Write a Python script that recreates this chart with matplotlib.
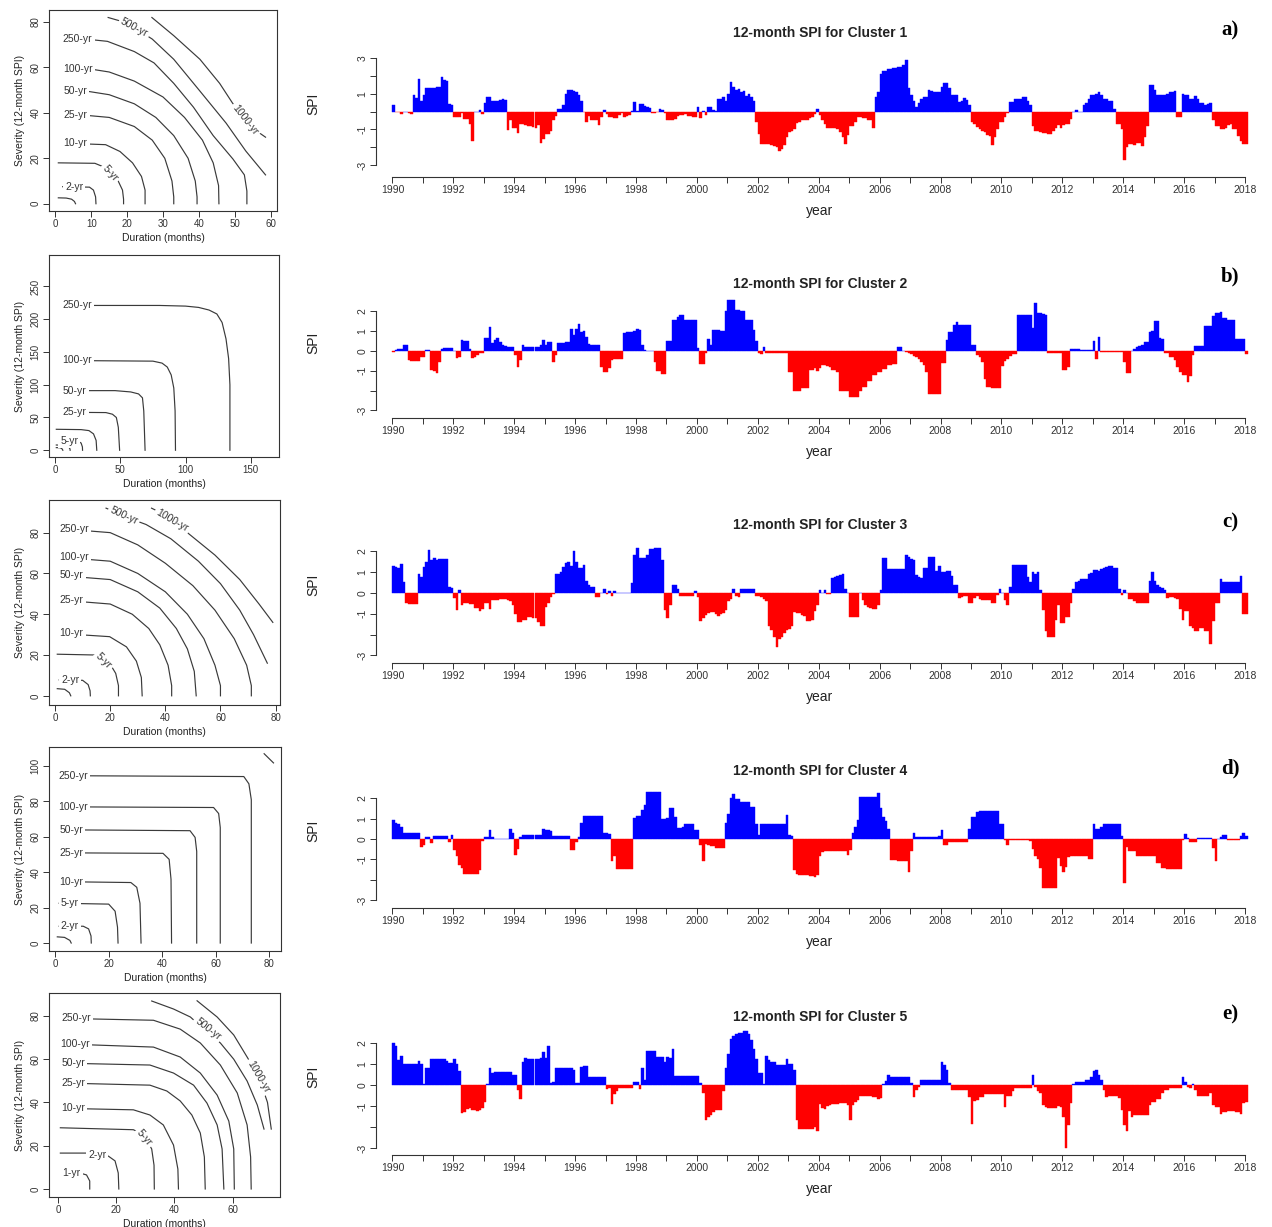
import matplotlib.pyplot as plt
import numpy as np

plt.rcParams['font.family'] = ['Liberation Sans', 'DejaVu Sans']

# ---------------- 12-month SPI, monthly, Jan 1990 .. Jan 2018 (one row per year) ----------------
spi_c1 = [
    [0.35, -0.05, -0.05, -0.15, 0.0, 0.0, -0.1, -0.15, 0.9, 0.75, 1.85, 0.6],
    [0.9, 1.3, 1.3, 1.3, 1.3, 1.35, 1.4, 1.95, 1.75, 1.7, 0.4, 0.35],
    [-0.3, -0.3, -0.3, -0.1, -0.4, -0.4, -0.7, -1.65, 0.0, 0.0, 0.1, -0.15],
    [0.5, 0.8, 0.8, 0.6, 0.6, 0.6, 0.65, 0.7, 0.65, -1.05, -0.45, -0.9],
    [-0.9, -1.2, -0.7, -0.7, -0.75, -0.8, -0.8, -0.85, -0.9, -0.75, -1.75, -1.55],
    [-1.25, -1.25, -1.1, -0.5, -0.25, 0.15, 0.15, 0.35, 1.0, 1.2, 1.2, 1.15],
    [1.1, 0.9, 0.6, -0.05, -0.6, -0.25, -0.45, -0.5, -0.5, -0.75, -0.3, 0.1],
    [-0.15, -0.3, -0.3, -0.35, -0.35, -0.2, -0.1, -0.3, -0.25, -0.2, 0.05, 0.55],
    [0.05, 0.4, 0.4, 0.3, 0.25, 0.2, -0.1, -0.1, -0.05, 0.15, 0.1, -0.1],
    [-0.5, -0.5, -0.45, -0.4, -0.25, -0.2, -0.2, -0.15, -0.25, -0.25, -0.3, -0.3],
    [0.25, -0.35, 0.05, -0.2, 0.25, 0.25, 0.1, 0.05, 0.7, 0.7, 0.8, 0.6],
    [1.0, 1.65, 1.4, 1.2, 1.25, 1.1, 1.15, 0.85, 1.0, 0.8, 0.6, -0.6],
    [-1.25, -1.85, -1.85, -1.8, -1.85, -1.9, -1.95, -2.0, -2.2, -2.1, -1.9, -1.45],
    [-1.15, -1.1, -1.0, -0.65, -0.6, -0.5, -0.5, -0.45, -0.35, -0.3, -0.15, 0.15],
    [-0.2, -0.5, -0.7, -0.9, -0.95, -0.95, -0.95, -1.0, -1.15, -1.45, -1.85, -1.3],
    [-0.8, -0.8, -0.6, -0.3, -0.3, -0.35, -0.35, -0.5, -0.5, -0.9, 0.8, 1.1],
    [2.1, 2.25, 2.25, 2.4, 2.4, 2.45, 2.45, 2.5, 2.5, 2.6, 2.9, 1.3],
    [0.9, 0.6, 0.25, 0.5, 0.7, 0.8, 0.8, 1.2, 1.15, 1.1, 1.1, 1.1],
    [1.4, 1.6, 1.6, 1.3, 0.95, 0.9, 0.9, 0.55, 0.6, 0.75, 0.65, 0.35],
    [-0.6, -0.7, -0.85, -1.0, -1.1, -1.15, -1.3, -1.4, -1.9, -1.45, -1.0, -0.6],
    [-0.6, -0.3, -0.1, 0.55, 0.55, 0.7, 0.7, 0.7, 0.8, 0.8, 0.6, 0.35],
    [-0.8, -1.1, -1.1, -1.15, -1.2, -1.2, -1.25, -1.25, -1.1, -0.95, -0.75, -0.9],
    [-0.75, -0.7, -0.7, -0.4, 0.0, 0.06, 0.0, 0.0, 0.35, 0.5, 0.7, 0.9],
    [0.9, 1.0, 1.1, 0.9, 0.7, 0.7, 0.6, 0.6, 0.15, -0.7, -0.7, -1.0],
    [-2.75, -2.0, -1.85, -1.85, -1.9, -1.75, -1.75, -1.95, -1.45, -0.8, 1.5, 1.5],
    [1.2, 0.9, 0.9, 0.9, 0.9, 1.0, 1.1, 1.1, 1.15, -0.3, -0.3, 1.0],
    [0.9, 0.9, 0.7, 0.7, 0.85, 0.7, 0.5, 0.45, 0.35, 0.4, 0.5, -0.5],
    [-0.8, -0.8, -1.0, -1.0, -0.95, -0.75, -0.7, -1.0, -1.0, -1.35, -1.65, -1.85],
    [-1.85],
]

spi_c2 = [
    [-0.05, 0.05, 0.12, 0.12, 0.3, 0.3, -0.45, -0.5, -0.5, -0.5, -0.5, -0.3],
    [-0.3, 0.05, 0.05, -0.95, -1.0, -1.1, -0.55, 0.1, 0.15, 0.15, 0.15, 0.15],
    [0.0, -0.35, -0.3, 0.55, 0.5, 0.5, 0.1, -0.35, -0.3, -0.2, -0.12, -0.12],
    [0.65, 0.65, 1.2, 0.4, 0.55, 0.65, 0.45, 0.3, 0.25, 0.2, 0.2, 0.18],
    [-0.2, -0.8, -0.45, 0.3, 0.22, 0.2, 0.2, 0.2, 0.2, 0.22, 0.3, 0.55],
    [0.3, 0.45, 0.45, -0.55, -0.2, 0.4, 0.4, 0.4, 0.45, 0.45, 1.1, 0.8],
    [1.1, 1.35, 0.95, 1.0, 0.7, 0.35, 0.3, 0.3, 0.3, 0.3, -0.8, -1.05],
    [-1.05, -0.85, -0.45, -0.4, -0.4, -0.4, -0.4, 0.9, 0.95, 0.95, 0.95, 1.0],
    [1.1, 1.05, 0.3, 0.05, 0.0, 0.0, 0.0, -0.55, -1.0, -1.0, -1.15, -1.15],
    [0.5, 0.5, 1.55, 1.55, 1.7, 1.8, 1.8, 1.55, 1.55, 1.55, 1.55, 1.55],
    [0.15, -0.65, -0.65, -0.1, 0.6, 0.3, 1.05, 1.05, 1.05, 1.0, 1.0, 2.0],
    [2.6, 2.6, 2.6, 2.05, 2.05, 2.0, 2.0, 1.55, 1.55, 1.55, 1.05, 0.5],
    [-0.1, -0.15, 0.2, -0.1, -0.12, -0.12, -0.12, -0.12, -0.12, -0.12, -0.12, -0.12],
    [-1.05, -1.05, -2.0, -2.0, -2.0, -1.85, -1.85, -1.85, -0.95, -0.95, -0.85, -1.0],
    [-0.85, -0.7, -0.7, -0.75, -0.8, -0.95, -0.95, -1.05, -2.0, -2.0, -2.0, -2.0],
    [-2.3, -2.3, -2.3, -2.3, -2.0, -1.8, -1.8, -1.5, -1.5, -1.2, -1.2, -1.05],
    [-1.05, -0.9, -0.9, -0.7, -0.7, -0.65, -0.65, 0.2, 0.2, 0.0, -0.05, -0.1],
    [-0.15, -0.25, -0.3, -0.4, -0.55, -0.7, -1.05, -2.15, -2.15, -2.15, -2.15, -2.15],
    [-0.6, -0.6, 0.55, 0.95, 0.95, 1.3, 1.45, 1.3, 1.3, 1.3, 1.3, 1.3],
    [0.3, 0.3, -0.2, -0.3, -0.55, -1.4, -1.8, -1.8, -1.85, -1.85, -1.85, -1.85],
    [-0.75, -0.5, -0.4, -0.25, -0.15, -0.15, 1.8, 1.8, 1.8, 1.8, 1.8, 1.8],
    [1.15, 2.4, 1.9, 1.9, 1.85, 1.8, -0.1, -0.08, -0.08, -0.08, -0.08, -0.08],
    [-0.95, -0.95, -0.8, 0.1, 0.1, 0.1, 0.1, 0.05, 0.05, 0.05, 0.05, 0.05],
    [0.5, -0.4, 0.7, -0.05, -0.05, -0.05, -0.05, -0.05, -0.05, -0.05, -0.05, -0.05],
    [-0.55, -1.1, -1.1, 0.0, 0.1, 0.2, 0.25, 0.3, 0.45, 0.45, 0.95, 1.0],
    [1.5, 1.5, 0.65, 0.6, -0.1, -0.1, -0.3, -0.3, -0.45, -0.8, -1.05, -1.2],
    [-1.2, -1.55, -1.25, -0.2, 0.25, 0.25, 0.25, 0.25, 1.25, 1.25, 1.25, 1.75],
    [1.9, 1.9, 1.95, 1.65, 1.65, 1.55, 1.55, 1.55, 0.6, 0.6, 0.6, 0.6],
    [-0.17],
]

spi_c3 = [
    [1.3, 1.25, 1.2, 1.4, 0.55, -0.5, -0.55, -0.55, -0.55, -0.55, 0.9, 0.75],
    [1.25, 1.5, 2.05, 1.6, 1.7, 1.6, 1.65, 1.65, 1.65, 1.65, 0.3, 0.25],
    [-0.25, -0.8, 0.15, -0.6, -0.5, -0.5, -0.55, -0.55, -0.7, -0.7, -0.85, -0.75],
    [-0.5, -0.5, -0.75, -0.35, -0.35, -0.35, -0.3, -0.3, -0.3, -0.35, -0.4, -0.6],
    [-1.0, -1.4, -1.4, -1.3, -1.3, -1.15, -1.15, -1.2, -1.2, -1.4, -1.6, -1.6],
    [-0.65, -0.5, -0.2, -0.05, 0.9, 0.9, 1.0, 1.25, 1.45, 1.5, 1.3, 2.0],
    [1.5, 1.2, 1.2, 1.35, 0.6, 0.4, 0.3, 0.3, -0.2, -0.2, 0.0, 0.2],
    [-0.06, 0.1, -0.15, 0.1, 0.0, 0.0, 0.0, 0.0, 0.0, 0.0, 0.5, 1.85],
    [2.15, 1.7, 1.7, 1.7, 1.85, 2.1, 2.1, 2.15, 2.15, 2.15, 1.6, -0.8],
    [-1.2, -0.6, 0.4, 0.4, 0.2, -0.15, -0.15, -0.15, -0.15, -0.15, -0.15, 0.1],
    [-0.2, -1.35, -1.2, -1.05, -0.95, -0.9, -0.9, -1.0, -1.1, -1.0, -0.95, -0.8],
    [-0.4, -0.3, 0.2, -0.15, -0.2, 0.18, 0.18, 0.18, 0.18, 0.18, 0.18, -0.15],
    [-0.15, -0.2, -0.3, -0.4, -1.6, -1.8, -2.1, -2.6, -2.2, -2.1, -1.9, -1.8],
    [-1.75, -1.6, -0.9, -0.95, -0.95, -1.05, -1.1, -1.35, -1.35, -1.3, -0.85, -0.6],
    [0.15, 0.0, 0.15, -0.05, -0.05, 0.7, 0.75, 0.8, 0.85, 0.9, 0.2, 0.0],
    [-1.15, -1.15, -1.15, -1.15, 0.0, -0.35, -0.6, -0.65, -0.7, -0.75, -0.75, -0.6],
    [0.15, 1.7, 1.7, 1.15, 1.15, 1.15, 1.15, 1.15, 1.15, 1.15, 1.85, 1.75],
    [1.65, 1.6, 0.85, 0.75, 0.7, 1.2, 1.2, 1.75, 1.75, 1.75, 1.05, 1.3],
    [1.0, 1.0, 1.05, 1.05, 0.8, 0.4, 0.4, -0.25, -0.2, -0.15, -0.15, -0.5],
    [-0.5, -0.25, -0.15, -0.3, -0.35, -0.35, -0.35, -0.35, -0.5, -0.5, -0.1, 0.2],
    [0.0, -0.35, -0.6, 0.3, 1.35, 1.35, 1.35, 1.35, 1.35, 1.35, 0.75, 0.55],
    [1.0, 0.9, 1.0, 0.15, -0.8, -1.85, -2.1, -2.1, -2.1, -1.3, -0.6, -1.45],
    [-1.45, -1.15, -1.15, -0.5, 0.2, 0.55, 0.6, 0.65, 0.65, 0.65, 0.9, 0.95],
    [1.1, 1.1, 1.05, 1.15, 1.2, 1.25, 1.3, 1.3, 1.2, 1.2, 0.2, -0.1],
    [0.15, 0.0, -0.3, -0.3, -0.4, -0.5, -0.5, -0.5, -0.5, -0.5, 0.6, 1.0],
    [0.6, 0.4, 0.3, 0.25, 0.15, -0.25, -0.2, -0.2, -0.25, -0.3, -0.75, -1.3],
    [-0.85, -0.85, -1.6, -1.7, -1.85, -1.85, -1.7, -1.7, -1.85, -1.85, -2.45, -1.35],
    [-0.5, -0.5, 0.65, 0.55, 0.55, 0.55, 0.55, 0.55, 0.55, 0.55, 0.8, -1.0],
    [-1.0],
]

spi_c4 = [
    [0.95, 0.8, 0.75, 0.6, 0.28, 0.28, 0.28, 0.28, 0.28, 0.28, 0.28, -0.4],
    [-0.3, 0.1, 0.1, -0.2, 0.15, 0.15, 0.15, 0.15, 0.15, 0.15, -0.15, 0.2],
    [-0.55, -0.85, -1.25, -1.4, -1.7, -1.7, -1.7, -1.7, -1.7, -1.7, -1.5, -0.1],
    [0.1, 0.1, 0.45, 0.1, 0.0, 0.0, 0.0, 0.0, 0.0, 0.0, 0.5, 0.3],
    [-0.8, -0.5, 0.1, 0.22, 0.22, 0.22, 0.22, 0.22, 0.22, 0.22, 0.22, 0.5],
    [0.45, 0.45, 0.4, 0.15, 0.15, 0.15, 0.15, 0.15, 0.15, 0.15, -0.55, -0.55],
    [-0.15, 0.1, 0.8, 1.15, 1.15, 1.15, 1.15, 1.15, 1.15, 1.15, 1.15, 0.3],
    [0.3, 0.25, -1.1, -0.85, -1.45, -1.45, -1.45, -1.45, -1.45, -1.45, -1.45, 1.05],
    [1.15, 1.15, 1.4, 1.65, 2.3, 2.3, 2.3, 2.3, 2.3, 2.3, 1.0, 1.0],
    [1.05, 1.5, 1.5, 1.1, 0.55, 0.55, 0.6, 0.75, 0.75, 0.75, 0.75, 0.45],
    [0.45, -0.3, -1.1, -0.25, -0.3, -0.35, -0.35, -0.45, -0.45, -0.45, -0.45, 0.8],
    [1.25, 2.0, 2.2, 1.95, 1.95, 1.8, 1.8, 1.8, 1.8, 1.55, 1.55, 0.75],
    [0.2, 0.75, 0.75, 0.72, 0.72, 0.72, 0.72, 0.72, 0.72, 0.72, 0.75, 1.2],
    [0.2, 0.15, -1.5, -1.7, -1.75, -1.75, -1.75, -1.75, -1.8, -1.8, -1.85, -1.75],
    [-0.85, -0.65, -0.6, -0.6, -0.6, -0.6, -0.6, -0.6, -0.6, -0.6, -0.6, -0.8],
    [-0.55, 0.3, 0.6, 0.95, 2.05, 2.05, 2.05, 2.05, 2.05, 2.05, 2.05, 2.25],
    [1.5, 1.1, 0.9, 0.5, -1.05, -1.05, -1.05, -1.1, -1.1, -1.1, -1.1, -1.6],
    [-0.6, 0.3, 0.08, 0.08, 0.08, 0.08, 0.08, 0.08, 0.08, 0.08, 0.08, 0.15],
    [0.45, -0.3, -0.3, -0.13, -0.13, -0.13, -0.13, -0.13, -0.13, -0.13, -0.13, 0.5],
    [1.1, 1.1, 1.3, 1.35, 1.35, 1.35, 1.35, 1.35, 1.35, 1.35, 1.35, 0.75],
    [0.75, -0.05, -0.3, -0.05, -0.05, -0.05, -0.05, -0.05, -0.05, -0.05, -0.05, -0.1],
    [-0.5, -0.85, -1.0, -1.4, -2.4, -2.4, -2.4, -2.4, -2.4, -2.4, -0.95, -1.3],
    [-1.6, -1.35, -0.9, -0.85, -0.85, -0.85, -0.85, -0.85, -0.85, -0.85, -1.0, -1.0],
    [0.75, 0.5, 0.5, 0.6, 0.72, 0.72, 0.72, 0.72, 0.72, 0.75, 0.75, 0.15],
    [-2.15, -0.4, -0.6, -0.6, -0.6, -0.85, -0.85, -0.85, -0.85, -0.85, -0.85, -0.85],
    [-0.85, -1.2, -1.2, -1.4, -1.4, -1.45, -1.45, -1.45, -1.45, -1.45, -1.45, -0.05],
    [0.25, 0.05, -0.13, -0.13, -0.13, 0.05, 0.05, 0.05, 0.05, 0.05, 0.05, -0.45],
    [-1.1, 0.0, 0.1, 0.2, 0.2, -0.05, -0.05, -0.05, -0.05, -0.05, 0.15, 0.3],
    [0.15],
]

spi_c5 = [
    [2.0, 1.85, 1.2, 1.4, 1.0, 1.0, 1.0, 1.0, 1.0, 1.0, 1.15, 1.0],
    [0.05, 0.8, 0.8, 1.25, 1.25, 1.25, 1.25, 1.25, 1.25, 1.15, 1.05, 1.05],
    [1.25, 1.0, 0.65, -1.35, -1.3, -1.15, -1.1, -1.2, -1.2, -1.25, -1.2, -1.1],
    [-0.8, 0.05, 0.8, 0.55, 0.6, 0.6, 0.6, 0.6, 0.6, 0.6, 0.6, 0.5],
    [0.5, -0.25, -0.65, 1.1, 1.3, 1.25, 1.25, 1.25, 1.25, 1.25, 1.3, 1.55],
    [1.3, 1.85, 0.1, 0.12, 0.8, 0.8, 0.8, 0.8, 0.8, 0.8, 0.8, 0.7],
    [0.1, 0.1, 0.85, 0.9, 0.9, 0.4, 0.4, 0.4, 0.4, 0.4, 0.4, 0.4],
    [-0.2, -0.15, -0.9, -0.45, -0.3, -0.15, -0.15, -0.15, -0.15, -0.15, -0.15, 0.12],
    [0.12, -0.2, 0.8, 0.25, 1.6, 1.6, 1.6, 1.6, 1.35, 1.35, 1.35, 1.1],
    [1.35, 1.3, 1.7, 0.45, 0.45, 0.45, 0.45, 0.45, 0.45, 0.45, 0.45, 0.45],
    [0.45, 0.1, -0.4, -1.65, -1.5, -1.45, -1.3, -1.2, -1.2, -1.2, -0.3, 0.8],
    [1.5, 2.2, 2.35, 2.45, 2.5, 2.5, 2.55, 2.55, 2.45, 2.15, 1.7, 1.25],
    [0.55, 0.55, 0.05, 1.4, 1.2, 1.1, 1.1, 0.95, 0.95, 0.95, 0.95, 1.25],
    [1.0, 1.0, 0.7, -1.65, -2.1, -2.1, -2.1, -2.1, -2.1, -2.1, -2.0, -2.2],
    [-0.9, -1.1, -1.15, -1.0, -0.95, -0.9, -0.9, -0.9, -0.88, -0.88, -0.88, -0.95],
    [-1.65, -0.95, -0.8, -0.7, -0.5, -0.5, -0.5, -0.5, -0.5, -0.55, -0.55, -0.65],
    [-0.6, 0.05, 0.2, 0.5, 0.4, 0.4, 0.4, 0.4, 0.4, 0.4, 0.4, 0.4],
    [0.1, -0.55, -0.25, -0.1, 0.22, 0.25, 0.25, 0.25, 0.25, 0.25, 0.25, 0.25],
    [1.1, 0.95, 0.7, 0.1, -0.25, -0.25, -0.25, -0.25, -0.25, -0.25, -0.25, -0.55],
    [-1.85, -0.75, -0.7, -0.55, -0.55, -0.45, -0.45, -0.45, -0.45, -0.45, -0.45, -0.45],
    [-0.45, -1.05, -0.5, -0.5, -0.3, -0.15, -0.15, -0.15, -0.15, -0.15, -0.15, -0.15],
    [0.5, -0.1, -0.3, -0.4, -0.95, -1.05, -1.1, -1.1, -1.1, -1.1, -1.0, -1.05],
    [-1.5, -3.0, -1.9, -0.85, 0.05, 0.15, 0.15, 0.15, 0.15, 0.25, 0.25, 0.4],
    [0.65, 0.7, 0.5, 0.25, -0.25, -0.55, -0.5, -0.5, -0.5, -0.5, -0.6, -1.2],
    [-1.9, -2.2, -1.25, -1.5, -1.45, -1.45, -1.45, -1.45, -1.45, -1.45, -0.95, -0.8],
    [-0.8, -0.65, -0.65, -0.4, -0.25, -0.25, -0.13, -0.13, -0.13, -0.13, -0.13, 0.4],
    [0.12, -0.08, -0.15, 0.03, -0.25, -0.5, -0.5, -0.5, -0.5, -0.5, -0.4, -0.95],
    [-1.05, -1.05, -1.4, -1.3, -1.3, -1.25, -1.25, -1.25, -1.3, -1.3, -1.4, -0.85],
    [-0.8],
]

spi_all = [spi_c1, spi_c2, spi_c3, spi_c4, spi_c5]
titles = ['12-month SPI for Cluster %d' % k for k in range(1, 6)]
letters = ['a)', 'b)', 'c)', 'd)', 'e)']

# ---------------- severity-duration curves: (duration, severity) per return period ----------------
rp_c1 = {
    '1-yr': ([0.8, 3, 4.5, 5.3, 5.6], [2.6, 2.5, 2, 1, 0]),
    '2-yr': ([2, 9.5, 10.6, 11.2, 11.3], [7.5, 7.3, 6, 3, 0]),
    '5-yr': ([0.8, 11, 13, 15.5, 17.5, 18.7, 19, 19], [18, 17.8, 16.5, 13.5, 10, 6, 2, 0]),
    '10-yr': ([2.2, 14, 18, 21.5, 24, 25, 25], [26.7, 26, 23, 18, 12, 6, 0]),
    '25-yr': ([2.2, 8, 15, 22, 27, 30.5, 32.5, 33, 33], [39, 39, 38, 34, 28, 20, 10, 3, 0]),
    '50-yr': ([2.2, 9, 15, 22, 28, 33, 37, 39, 39.5, 39.5], [49.5, 49.5, 48, 44, 38, 30, 20, 10, 3, 0]),
    '100-yr': ([2.2, 9, 15, 22, 30, 36, 41, 44, 45.5, 45.6], [59.5, 59.5, 58, 54, 47, 38, 28, 18, 8, 0]),
    '250-yr': ([2.2, 9, 14.5, 22, 27.5, 33, 38.5, 44, 49.5, 52.7, 53.4, 53.4],
               [72.5, 72.4, 71.5, 67, 62, 53, 42.5, 30, 19.7, 12.7, 5.6, 0]),
    '500-yr': ([14.7, 18, 22, 27, 33, 40.3, 47.6, 53.1, 58.6], [82, 80.5, 77.5, 72.5, 63.6, 49.6, 35.5, 23.2, 12.7]),
    '1000-yr': ([26.9, 33, 40.3, 45.8, 49.4, 53, 56.6, 58.6], [82, 74, 63.6, 53, 44.3, 37, 31.5, 29.3]),
}
rp_c2 = {
    '1-yr': ([1, 4, 5.5, 6], [4, 3.8, 2, 0]),
    '2-yr': ([1, 8, 10.5, 11.5, 11.6], [8, 7.5, 5, 2, 0]),
    '5-yr': ([5, 18, 20, 21, 21.1], [13.5, 13.3, 11, 5, 0]),
    '10-yr': ([1, 20, 26, 29.5, 31.5, 32], [32, 31.5, 30, 25, 15, 0]),
    '25-yr': ([6, 39, 44, 47, 48.5, 49.5], [58, 57.5, 55, 50, 35, 0]),
    '50-yr': ([6, 46, 58, 64, 67, 68, 68.5, 69], [91, 91, 89, 86, 80, 60, 30, 0]),
    '100-yr': ([6, 75, 82, 86, 89, 91, 92, 92.3], [137, 136, 133, 127, 115, 95, 60, 0]),
    '250-yr': ([6, 80, 100, 110, 118, 124, 128, 131, 133, 134, 134],
               [221, 221, 220, 218, 214, 208, 195, 170, 140, 100, 0]),
}
rp_c3 = {
    '1-yr': ([0.8, 3.5, 5.2, 5.7], [3.5, 3.2, 1.5, 0]),
    '2-yr': ([1.5, 10, 12, 12.7, 12.8], [7.8, 7.6, 5.5, 2.5, 0]),
    '5-yr': ([0.8, 15, 17.5, 20, 22, 23, 23], [20.4, 20, 18.5, 15.5, 11, 5, 0]),
    '10-yr': ([1.5, 19.8, 25.9, 29.5, 31.3, 31.6], [30.6, 29, 24, 17, 9, 0]),
    '25-yr': ([1.5, 20, 28, 34, 38, 41, 42.3, 42.3], [47, 45, 40, 33, 25, 15, 5, 0]),
    '50-yr': ([1.5, 20, 30, 38, 44, 48, 50.5, 51.2], [59, 57, 51, 43, 33, 23, 12, 0]),
    '100-yr': ([1.5, 20, 30, 40, 48, 54, 58, 60, 60], [68, 66, 60, 51, 40, 28, 15, 5, 0]),
    '250-yr': ([1.5, 20, 30, 40, 50, 58, 65, 69.5, 71.2, 71.2], [82, 80, 74, 65, 54, 42, 28, 15, 5, 0]),
    '500-yr': ([18.5, 22, 27, 33, 42, 52, 60, 67, 72, 77], [92, 90, 87, 84, 77, 66, 55, 42, 30, 16]),
    '1000-yr': ([35, 38, 43, 48, 58, 67, 74, 79], [92, 90, 85, 80, 69, 57, 45, 36]),
}
rp_c4 = {
    '1-yr': ([0.8, 3.5, 5.5, 6], [3.5, 3.2, 1.5, 0]),
    '2-yr': ([1.5, 10.5, 12.5, 13.4, 13.5], [9.5, 9.5, 8, 4, 0]),
    '5-yr': ([1.5, 20, 22.4, 23.3, 23.5], [22.5, 22, 18, 9, 0]),
    '10-yr': ([1.5, 28.3, 30.5, 31.7, 32.1], [34.7, 34.2, 31.5, 22.5, 0]),
    '25-yr': ([1.5, 40.3, 42.6, 43.3, 43.5], [51, 50.7, 47.3, 36, 0]),
    '50-yr': ([1.5, 50.4, 52.3, 52.9, 52.9], [64, 63.5, 59.7, 51.8, 0]),
    '100-yr': ([1.5, 59.2, 61.1, 61.7, 61.7], [77, 76.6, 73.2, 65.3, 0]),
    '250-yr': ([1.5, 70.5, 72.4, 73.3, 73.3], [94.6, 94.1, 90, 81, 0]),
    '500-yr': ([78.1, 81.6], [107, 101.8]),
}
rp_c5 = {
    '1-yr': ([1.2, 7.5, 9.8, 10.9, 10.9], [7.4, 7.4, 6.5, 3.7, 0]),
    '2-yr': ([0.8, 10, 17.3, 19.6, 20.7, 20.9], [16.6, 16.6, 15.2, 13, 7.4, 0]),
    '5-yr': ([0.8, 25.9, 28, 30.5, 32.2, 33, 33.1], [28.3, 27.4, 26, 22.5, 18.5, 11, 0]),
    '10-yr': ([1.2, 25.9, 31.6, 36.2, 39.7, 41.2, 41.4], [37.3, 36.6, 34.2, 29.6, 20.3, 9.2, 0]),
    '25-yr': ([1.2, 31.6, 37.4, 42, 46, 48.9, 50.3, 50.6], [49, 48, 45.3, 40.7, 34.2, 25.9, 14.8, 0]),
    '50-yr': ([1.2, 31.6, 39.7, 46.6, 51.2, 54.7, 56.4, 57], [58.2, 57.3, 53.6, 48, 39.7, 29.6, 18.5, 0]),
    '100-yr': ([1.2, 32.8, 42, 48.9, 54.7, 58.7, 60.4, 60.6], [67.1, 65.6, 61, 53.6, 43.4, 31.4, 18.5, 0]),
    '250-yr': ([1.2, 32.8, 42, 48.9, 55.8, 61.6, 65, 66.2, 66.4], [78.9, 78, 73.9, 67.5, 57.3, 44.4, 29.6, 14.8, 0]),
    '500-yr': ([32.2, 39.7, 45.5, 50, 55.8, 60.4, 65, 68.5, 70.8], [86.9, 83.2, 79.5, 74, 67.5, 60, 49.9, 38.8, 27.7]),
    '1000-yr': ([47.8, 54.7, 60.4, 65, 69, 72, 73.3], [87, 79.5, 71.2, 61, 52, 40, 27.7]),
}
rp_all = [rp_c1, rp_c2, rp_c3, rp_c4, rp_c5]

# ---------------- layout (pixels of the 1272x1227 canvas) ----------------
W, H = 1272, 1227

# contour label placement: (text, x, y, rotation)
lab_c1 = [('2-yr', 5.2, 7.5, 0), ('5-yr', 15.3, 13.5, -48), ('10-yr', 5.6, 26.7, 0),
          ('25-yr', 5.6, 39, 0), ('50-yr', 5.6, 49.5, 0), ('100-yr', 6.2, 59.5, 0),
          ('250-yr', 6.2, 72.5, 0), ('500-yr', 22, 77.5, -28), ('1000-yr', 53, 37, -52)]
lab_c2 = [('5-yr', 11, 13.5, 0), ('25-yr', 15, 58, 0), ('50-yr', 15, 91, 0),
          ('100-yr', 17, 137, 0), ('250-yr', 17, 221, 0)]
lab_c3 = [('2-yr', 5.5, 7.8, 0), ('5-yr', 17.5, 17, -45), ('10-yr', 6, 30.6, 0),
          ('25-yr', 6, 47, 0), ('50-yr', 6, 59, 0), ('100-yr', 6.8, 68, 0),
          ('250-yr', 6.8, 82, 0), ('500-yr', 25, 88.5, -25), ('1000-yr', 42.5, 86, -30)]
lab_c4 = [('2-yr', 5.5, 9.5, 0), ('5-yr', 5.5, 22.5, 0), ('10-yr', 6, 34.7, 0),
          ('25-yr', 6, 51, 0), ('50-yr', 6, 64, 0), ('100-yr', 6.8, 77, 0), ('250-yr', 6.8, 94.6, 0)]
lab_c5 = [('1-yr', 4.6, 7.4, 0), ('2-yr', 13.5, 15.8, 0), ('5-yr', 29.5, 23.5, -50),
          ('10-yr', 5.2, 37.3, 0), ('25-yr', 5.2, 49, 0), ('50-yr', 5.2, 58.2, 0),
          ('100-yr', 5.8, 67.1, 0), ('250-yr', 6.2, 78.9, 0), ('500-yr', 51.5, 74, -38),
          ('1000-yr', 69, 52, -60)]
lab_all = [lab_c1, lab_c2, lab_c3, lab_c4, lab_c5]

left_box = [(49, 10, 277, 211), (49, 255, 279, 457), (49, 500, 280, 705),
            (49, 747, 281, 951), (49, 993, 280, 1197)]
left_xlim = [(-1.8, 61.8), (-4.6, 171.6), (-2.2, 81.6), (-2.3, 84.4), (-3.1, 76.3)]
left_ylim = [(-3.2, 85.3), (-10.3, 298), (-4.5, 96), (-4.5, 110.8), (-3.7, 90.6)]
left_xticks = [range(0, 61, 10), range(0, 151, 50), range(0, 81, 20), range(0, 81, 20), range(0, 61, 20)]
left_yticks = [range(0, 81, 20), range(0, 251, 50), range(0, 81, 20), range(0, 101, 20), range(0, 81, 20)]

# right panels: axes top, x-axis line, zero line, px per SPI unit
right_rows = [(50, 177, 111.5, 17.8), (292, 418, 351, 19.8), (537, 663, 593, 20.8),
              (782, 908, 839, 20.4), (1027, 1155, 1085, 21.0)]
X_LEFT, X_RIGHT = 376, 1262
PX_1990, PX_YEAR = 392.4, 30.45
title_y = [33, 284, 525, 771, 1017]
letter_y = [30, 276, 522, 768, 1014]


def fbox(x0, y0, x1, y1):
    return [x0 / W, 1 - y1 / H, (x1 - x0) / W, (y1 - y0) / H]


fig = plt.figure(figsize=(W / 100, H / 100), dpi=100)
line_col = '#3a3a3a'

# ---------------- left: severity-duration-frequency curves ----------------
for i in range(5):
    x0, y0, x1, y1 = left_box[i]
    ax = fig.add_axes(fbox(x0, y0, x1, y1))
    for name, (d, s) in rp_all[i].items():
        ax.plot(d, s, color=line_col, lw=0.85)
    for txt, lx, ly, rot in lab_all[i]:
        ax.text(lx, ly, txt, fontsize=7.5, color='#333333', rotation=rot,
                ha='center', va='center', rotation_mode='anchor', zorder=3,
                bbox=dict(facecolor='white', edgecolor='none', pad=1.5))
    ax.set_xlim(*left_xlim[i])
    ax.set_ylim(*left_ylim[i])
    ax.set_xticks(list(left_xticks[i]))
    ax.set_yticks(list(left_yticks[i]))
    ax.tick_params(labelsize=7, length=4, width=0.7, colors='#333333', pad=2)
    for lab in ax.get_yticklabels():
        lab.set_rotation(90)
        lab.set_va('center')
    for sp in ax.spines.values():
        sp.set_linewidth(0.8)
        sp.set_color('#333333')
        sp.set_zorder(4)
    fig.text(20 / W, 1 - (y0 + y1) / 2 / H, 'Severity (12-month SPI)', rotation=90,
             ha='center', va='center', fontsize=7.5, color='#222222')
    fig.text((x0 + x1) / 2 / W, 1 - (y1 + 27) / H, 'Duration (months)',
             ha='center', va='center', fontsize=7.5, color='#222222')

# ---------------- right: monthly SPI bars ----------------
year_ticks = list(range(1990, 2019))
year_labels = [str(y) if y % 2 == 0 else '' for y in year_ticks]

for i in range(5):
    top, axis_px, zero_px, unit = right_rows[i]
    ax = fig.add_axes(fbox(X_LEFT, top, X_RIGHT, axis_px))
    vals = np.concatenate([np.asarray(r, dtype=float) for r in spi_all[i]])
    t = 1990 + np.arange(len(vals)) / 12.0
    cols = np.where(vals >= 0, '#0000ff', '#ff0000')
    ax.bar(t, vals, width=1 / 12.0, align='edge', color=cols, edgecolor=cols, linewidth=0.3)

    ax.set_xlim(1990 - (PX_1990 - X_LEFT) / PX_YEAR, 1990 + (X_RIGHT - PX_1990) / PX_YEAR)
    ax.set_ylim(-(axis_px - zero_px) / unit, (zero_px - top) / unit)

    ax.spines['top'].set_visible(False)
    ax.spines['right'].set_visible(False)
    ax.spines['bottom'].set_bounds(1990, 2018)
    ymax_tick = 3 if i == 0 else 2
    ax.spines['left'].set_bounds(-3, ymax_tick)
    for sp in ('bottom', 'left'):
        ax.spines[sp].set_linewidth(0.8)
        ax.spines[sp].set_color('#333333')

    ax.set_xticks(year_ticks)
    ax.set_xticklabels(year_labels)
    yt = list(range(-3, ymax_tick + 1))
    if i == 0:
        ylab = ['-3', '', '-1', '', '1', '', '3']
    else:
        ylab = ['-3', '', '-1', '0', '1', '2']
    ax.set_yticks(yt)
    ax.set_yticklabels(ylab, rotation=90, va='center')
    ax.tick_params(labelsize=7.5, length=4, width=0.7, colors='#333333', pad=2)

    fig.text(820 / W, 1 - title_y[i] / H, titles[i], ha='center', va='center',
             fontsize=10, fontweight='bold', color='#222222')
    fig.text(1230 / W, 1 - letter_y[i] / H, letters[i], ha='center', va='center',
             fontsize=15, fontweight='bold', family=['Liberation Serif', 'DejaVu Serif'])
    fig.text(313 / W, 1 - (zero_px - 8) / H, 'SPI', rotation=90, ha='center', va='center',
             fontsize=10, color='#222222')
    fig.text(820 / W, 1 - (axis_px + 34) / H, 'year', ha='center', va='center',
             fontsize=10, color='#222222')

fig.savefig('out.png', dpi=100)
